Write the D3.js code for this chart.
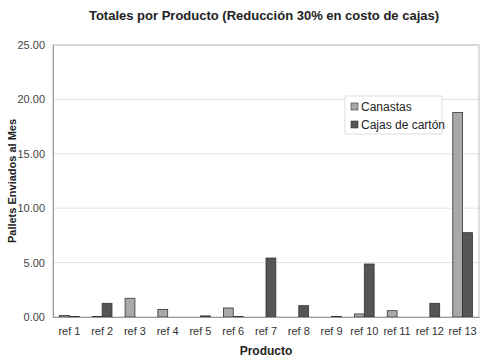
<!DOCTYPE html>
<html>
<head>
<meta charset="utf-8">
<script src="https://cdn.jsdelivr.net/npm/d3@7"></script>
<style>
  body { margin: 0; background: #fff; }
  svg text { font-family: "Liberation Sans", Arial, sans-serif; }
</style>
</head>
<body>
<div id="chart"></div>
<script>
// chart data
const categories = ["ref 1", "ref 2", "ref 3", "ref 4", "ref 5", "ref 6", "ref 7",
                    "ref 8", "ref 9", "ref 10", "ref 11", "ref 12", "ref 13"];
const canastas = [0.15, 0.05, 1.72, 0.70, 0.0, 0.83, 0.0, 0.0, 0.0, 0.28, 0.58, 0.0, 18.8];
const cajas = [0.05, 1.26, 0.0, 0.0, 0.10, 0.05, 5.42, 1.04, 0.05, 4.87, 0.0, 1.26, 7.75];
const seriesNames = ["Canastas", "Cajas de cartón"];
const yTicks = [0, 5, 10, 15, 20, 25];

const width = 502;
const height = 361;
const margin = { top: 45, right: 23, bottom: 44, left: 53 };
const chartWidth = width - margin.left - margin.right;
const chartHeight = height - margin.top - margin.bottom;
const colors = ["#a9a9a9", "#555555"];

const svg = d3.select("#chart")
    .append("svg")
    .attr("width", width)
    .attr("height", height);

const chart = svg.append("g")
    .attr("transform", `translate(${margin.left}, ${margin.top})`);

// scales
const xScale = d3.scaleBand()
    .domain(categories)
    .range([0, chartWidth])
    .paddingInner(0.4)
    .paddingOuter(0.2);

const xInner = d3.scaleBand()
    .domain(seriesNames)
    .range([0, xScale.bandwidth()]);

const yScale = d3.scaleLinear()
    .domain([0, 25])
    .range([chartHeight, 0]);

// gridlines
chart.selectAll("line.grid")
    .data(yTicks.slice(1))
    .enter()
    .append("line")
    .attr("class", "grid")
    .attr("x1", 0)
    .attr("x2", chartWidth)
    .attr("y1", d => yScale(d))
    .attr("y2", d => yScale(d))
    .attr("stroke", "#e2e2e2")
    .attr("stroke-width", 1);

// plot border
chart.append("rect")
    .attr("x", 0)
    .attr("y", 0)
    .attr("width", chartWidth)
    .attr("height", chartHeight)
    .attr("fill", "none")
    .attr("stroke", "#bdbdbd");

// bars
const rows = categories.map((c, i) => ({ cat: c, values: [canastas[i], cajas[i]] }));

const groups = chart.selectAll("g.group")
    .data(rows)
    .enter()
    .append("g")
    .attr("class", "group")
    .attr("transform", d => `translate(${xScale(d.cat)}, 0)`);

groups.selectAll("rect")
    .data(d => d.values.map((v, j) => ({ name: seriesNames[j], value: v, j })))
    .enter()
    .filter(d => d.value > 0)
    .append("rect")
    .attr("x", d => xInner(d.name))
    .attr("y", d => yScale(d.value))
    .attr("width", xInner.bandwidth())
    .attr("height", d => chartHeight - yScale(d.value))
    .attr("fill", d => colors[d.j])
    .attr("stroke", "#333")
    .attr("stroke-width", 0.8);

// axes
const xAxis = d3.axisBottom(xScale).tickSize(0).tickPadding(10);
const yAxis = d3.axisLeft(yScale).tickValues(yTicks).tickFormat(d3.format(".2f")).tickSize(0).tickPadding(8);

const gx = chart.append("g")
    .attr("transform", `translate(0, ${chartHeight})`)
    .call(xAxis);
gx.select(".domain").attr("stroke", "#999");
gx.selectAll("text").style("font-size", "11px").attr("fill", "#333");

const gy = chart.append("g").call(yAxis);
gy.select(".domain").attr("stroke", "#999");
gy.selectAll("text").style("font-size", "11px").attr("fill", "#444");

// titles
svg.append("text")
    .attr("x", 264)
    .attr("y", 20)
    .attr("text-anchor", "middle")
    .style("font-size", "13px")
    .style("font-weight", "bold")
    .attr("fill", "#222")
    .text("Totales por Producto (Reducción 30% en costo de cajas)");

svg.append("text")
    .attr("x", margin.left + chartWidth / 2)
    .attr("y", 355)
    .attr("text-anchor", "middle")
    .style("font-size", "12px")
    .style("font-weight", "bold")
    .attr("fill", "#222")
    .text("Producto");

svg.append("text")
    .attr("transform", `translate(16, ${margin.top + chartHeight / 2}) rotate(-90)`)
    .attr("text-anchor", "middle")
    .style("font-size", "11px")
    .style("font-weight", "bold")
    .attr("fill", "#222")
    .text("Pallets Enviados al Mes");

// legend
const legend = svg.append("g").attr("transform", "translate(345, 96)");
legend.append("rect")
    .attr("width", 97)
    .attr("height", 38)
    .attr("fill", "#fff")
    .attr("stroke", "#ddd");

seriesNames.forEach((name, i) => {
    const item = legend.append("g").attr("transform", `translate(6, ${11 + i * 18})`);
    item.append("rect")
        .attr("x", 0)
        .attr("y", -4)
        .attr("width", 7)
        .attr("height", 7)
        .attr("fill", colors[i])
        .attr("stroke", "#333")
        .attr("stroke-width", 0.6);
    item.append("text")
        .attr("x", 10)
        .attr("y", 4)
        .style("font-size", "12px")
        .attr("fill", "#222")
        .text(name);
});
</script>
</body>
</html>
